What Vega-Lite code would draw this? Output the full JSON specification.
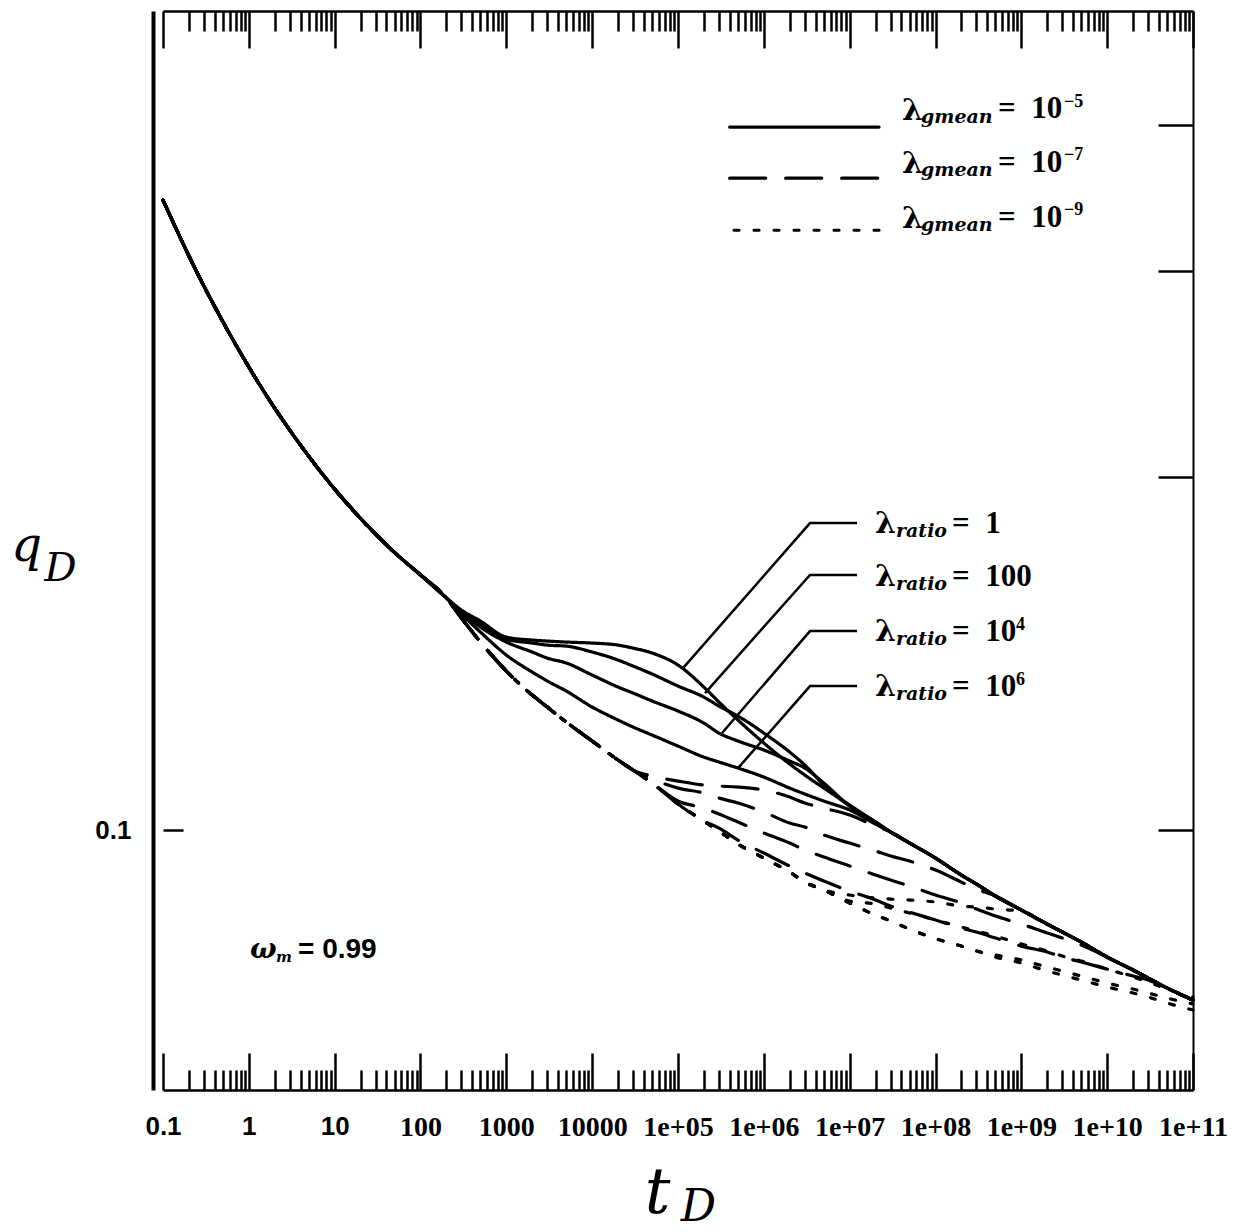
{
"$schema":"https://vega.github.io/schema/vega-lite/v6.json",
"width":1030,"height":1079,
"autosize":{"type":"none"},
"padding":{"left":163,"top":11,"right":47,"bottom":142},
"background":"white",
"config":{"view":{"stroke":null},"axis":{"grid":false,"domainColor":"black","tickColor":"black","labelColor":"black","titleColor":"black"}},
"resolve":{"axis":{"x":"independent","y":"independent"}},
"layer":[
{
"data":{"values":[
{"g":"1e-5","r":"1","t":0.1,"q":0.3448},{"g":"1e-5","r":"1","t":0.2,"q":0.3091},{"g":"1e-5","r":"1","t":0.3,"q":0.2912},{"g":"1e-5","r":"1","t":0.5,"q":0.2714},{"g":"1e-5","r":"1","t":1,"q":0.2484},{"g":"1e-5","r":"1","t":2,"q":0.2291},{"g":"1e-5","r":"1","t":3,"q":0.2194},{"g":"1e-5","r":"1","t":5,"q":0.2084},{"g":"1e-5","r":"1","t":10,"q":0.1954},{"g":"1e-5","r":"1","t":20,"q":0.1845},{"g":"1e-5","r":"1","t":30,"q":0.1789},{"g":"1e-5","r":"1","t":50,"q":0.1725},{"g":"1e-5","r":"1","t":100,"q":0.1651},{"g":"1e-5","r":"1","t":200,"q":0.1578},
{"g":"1e-5","r":"1","t":300,"q":0.15407},{"g":"1e-5","r":"1","t":500,"q":0.15077},{"g":"1e-5","r":"1","t":1000,"q":0.14609},{"g":"1e-5","r":"1","t":2000,"q":0.14525},{"g":"1e-5","r":"1","t":3000,"q":0.14497},{"g":"1e-5","r":"1","t":5000,"q":0.14468},{"g":"1e-5","r":"1","t":1e4,"q":0.1444},{"g":"1e-5","r":"1","t":2e4,"q":0.14382},{"g":"1e-5","r":"1","t":3e4,"q":0.14297},{"g":"1e-5","r":"1","t":5e4,"q":0.14159},{"g":"1e-5","r":"1","t":1e5,"q":0.13829},{"g":"1e-5","r":"1","t":2e5,"q":0.13244},{"g":"1e-5","r":"1","t":3e5,"q":0.12859},{"g":"1e-5","r":"1","t":5e5,"q":0.12413},{"g":"1e-5","r":"1","t":1e6,"q":0.11864},{"g":"1e-5","r":"1","t":2e6,"q":0.11385},{"g":"1e-5","r":"1","t":3e6,"q":0.11141},{"g":"1e-5","r":"1","t":5e6,"q":0.10859},
{"g":"1e-5","r":"1","t":1e7,"q":0.10503},{"g":"1e-5","r":"1","t":2e7,"q":0.10158},{"g":"1e-5","r":"1","t":3e7,"q":0.09961},{"g":"1e-5","r":"1","t":5e7,"q":0.09747},{"g":"1e-5","r":"1","t":1e8,"q":0.09464},{"g":"1e-5","r":"1","t":2e8,"q":0.09153},{"g":"1e-5","r":"1","t":3e8,"q":0.08993},{"g":"1e-5","r":"1","t":5e8,"q":0.08783},{"g":"1e-5","r":"1","t":1e9,"q":0.08545},{"g":"1e-5","r":"1","t":2e9,"q":0.08313},{"g":"1e-5","r":"1","t":3e9,"q":0.08184},{"g":"1e-5","r":"1","t":5e9,"q":0.08024},{"g":"1e-5","r":"1","t":1e10,"q":0.07791},{"g":"1e-5","r":"1","t":2e10,"q":0.07595},{"g":"1e-5","r":"1","t":3e10,"q":0.07476},{"g":"1e-5","r":"1","t":5e10,"q":0.0733},{"g":"1e-5","r":"1","t":1e11,"q":0.0716},

{"g":"1e-5","r":"100","t":0.1,"q":0.3448},{"g":"1e-5","r":"100","t":0.2,"q":0.3091},{"g":"1e-5","r":"100","t":0.3,"q":0.2912},{"g":"1e-5","r":"100","t":0.5,"q":0.2714},{"g":"1e-5","r":"100","t":1,"q":0.2484},{"g":"1e-5","r":"100","t":2,"q":0.2291},{"g":"1e-5","r":"100","t":3,"q":0.2194},{"g":"1e-5","r":"100","t":5,"q":0.2084},{"g":"1e-5","r":"100","t":10,"q":0.1954},{"g":"1e-5","r":"100","t":20,"q":0.1845},{"g":"1e-5","r":"100","t":30,"q":0.1789},{"g":"1e-5","r":"100","t":50,"q":0.1725},{"g":"1e-5","r":"100","t":100,"q":0.1651},{"g":"1e-5","r":"100","t":200,"q":0.1578},
{"g":"1e-5","r":"100","t":300,"q":0.15377},{"g":"1e-5","r":"100","t":500,"q":0.14988},{"g":"1e-5","r":"100","t":1000,"q":0.14551},{"g":"1e-5","r":"100","t":2000,"q":0.1444},{"g":"1e-5","r":"100","t":3000,"q":0.14382},{"g":"1e-5","r":"100","t":5000,"q":0.14353},{"g":"1e-5","r":"100","t":1e4,"q":0.14187},{"g":"1e-5","r":"100","t":2e4,"q":0.13966},{"g":"1e-5","r":"100","t":3e4,"q":0.13801},{"g":"1e-5","r":"100","t":5e4,"q":0.13587},{"g":"1e-5","r":"100","t":1e5,"q":0.1327},{"g":"1e-5","r":"100","t":2e5,"q":0.12985},{"g":"1e-5","r":"100","t":3e5,"q":0.12758},{"g":"1e-5","r":"100","t":5e5,"q":0.1251},{"g":"1e-5","r":"100","t":1e6,"q":0.12099},{"g":"1e-5","r":"100","t":2e6,"q":0.11656},{"g":"1e-5","r":"100","t":3e6,"q":0.11362},{"g":"1e-5","r":"100","t":5e6,"q":0.10924},{"g":"1e-5","r":"100","t":1e7,"q":0.10482},
{"g":"1e-5","r":"100","t":2e7,"q":0.10158},{"g":"1e-5","r":"100","t":3e7,"q":0.09961},{"g":"1e-5","r":"100","t":5e7,"q":0.09747},{"g":"1e-5","r":"100","t":1e8,"q":0.09464},{"g":"1e-5","r":"100","t":2e8,"q":0.09153},{"g":"1e-5","r":"100","t":3e8,"q":0.08993},{"g":"1e-5","r":"100","t":5e8,"q":0.08783},{"g":"1e-5","r":"100","t":1e9,"q":0.08545},{"g":"1e-5","r":"100","t":2e9,"q":0.08313},{"g":"1e-5","r":"100","t":3e9,"q":0.08184},{"g":"1e-5","r":"100","t":5e9,"q":0.08024},{"g":"1e-5","r":"100","t":1e10,"q":0.07791},{"g":"1e-5","r":"100","t":2e10,"q":0.07595},{"g":"1e-5","r":"100","t":3e10,"q":0.07476},{"g":"1e-5","r":"100","t":5e10,"q":0.0733},{"g":"1e-5","r":"100","t":1e11,"q":0.0716},

{"g":"1e-5","r":"1e4","t":0.1,"q":0.3448},{"g":"1e-5","r":"1e4","t":0.2,"q":0.3091},{"g":"1e-5","r":"1e4","t":0.3,"q":0.2912},{"g":"1e-5","r":"1e4","t":0.5,"q":0.2714},{"g":"1e-5","r":"1e4","t":1,"q":0.2484},{"g":"1e-5","r":"1e4","t":2,"q":0.2291},{"g":"1e-5","r":"1e4","t":3,"q":0.2194},{"g":"1e-5","r":"1e4","t":5,"q":0.2084},{"g":"1e-5","r":"1e4","t":10,"q":0.1954},{"g":"1e-5","r":"1e4","t":20,"q":0.1845},{"g":"1e-5","r":"1e4","t":30,"q":0.1789},{"g":"1e-5","r":"1e4","t":50,"q":0.1725},{"g":"1e-5","r":"1e4","t":100,"q":0.1651},{"g":"1e-5","r":"1e4","t":200,"q":0.1578},
{"g":"1e-5","r":"1e4","t":300,"q":0.15347},{"g":"1e-5","r":"1e4","t":500,"q":0.149},{"g":"1e-5","r":"1e4","t":1000,"q":0.14468},{"g":"1e-5","r":"1e4","t":2000,"q":0.14187},{"g":"1e-5","r":"1e4","t":3000,"q":0.14019},{"g":"1e-5","r":"1e4","t":5000,"q":0.13884},{"g":"1e-5","r":"1e4","t":1e4,"q":0.1356},{"g":"1e-5","r":"1e4","t":2e4,"q":0.13244},{"g":"1e-5","r":"1e4","t":3e4,"q":0.13088},{"g":"1e-5","r":"1e4","t":5e4,"q":0.12885},{"g":"1e-5","r":"1e4","t":1e5,"q":0.12634},{"g":"1e-5","r":"1e4","t":2e5,"q":0.1234},{"g":"1e-5","r":"1e4","t":3e5,"q":0.12099},{"g":"1e-5","r":"1e4","t":5e5,"q":0.11911},{"g":"1e-5","r":"1e4","t":1e6,"q":0.11702},{"g":"1e-5","r":"1e4","t":2e6,"q":0.11452},{"g":"1e-5","r":"1e4","t":3e6,"q":0.11295},{"g":"1e-5","r":"1e4","t":5e6,"q":0.10967},{"g":"1e-5","r":"1e4","t":1e7,"q":0.10482},
{"g":"1e-5","r":"1e4","t":2e7,"q":0.10158},{"g":"1e-5","r":"1e4","t":3e7,"q":0.09961},{"g":"1e-5","r":"1e4","t":5e7,"q":0.09747},{"g":"1e-5","r":"1e4","t":1e8,"q":0.09464},{"g":"1e-5","r":"1e4","t":2e8,"q":0.09153},{"g":"1e-5","r":"1e4","t":3e8,"q":0.08993},{"g":"1e-5","r":"1e4","t":5e8,"q":0.08783},{"g":"1e-5","r":"1e4","t":1e9,"q":0.08545},{"g":"1e-5","r":"1e4","t":2e9,"q":0.08313},{"g":"1e-5","r":"1e4","t":3e9,"q":0.08184},{"g":"1e-5","r":"1e4","t":5e9,"q":0.08024},{"g":"1e-5","r":"1e4","t":1e10,"q":0.07791},{"g":"1e-5","r":"1e4","t":2e10,"q":0.07595},{"g":"1e-5","r":"1e4","t":3e10,"q":0.07476},{"g":"1e-5","r":"1e4","t":5e10,"q":0.0733},{"g":"1e-5","r":"1e4","t":1e11,"q":0.0716},

{"g":"1e-5","r":"1e6","t":0.1,"q":0.3448},{"g":"1e-5","r":"1e6","t":0.2,"q":0.3091},{"g":"1e-5","r":"1e6","t":0.3,"q":0.2912},{"g":"1e-5","r":"1e6","t":0.5,"q":0.2714},{"g":"1e-5","r":"1e6","t":1,"q":0.2484},{"g":"1e-5","r":"1e6","t":2,"q":0.2291},{"g":"1e-5","r":"1e6","t":3,"q":0.2194},{"g":"1e-5","r":"1e6","t":5,"q":0.2084},{"g":"1e-5","r":"1e6","t":10,"q":0.1954},{"g":"1e-5","r":"1e6","t":20,"q":0.1845},{"g":"1e-5","r":"1e6","t":30,"q":0.1789},{"g":"1e-5","r":"1e6","t":50,"q":0.1725},{"g":"1e-5","r":"1e6","t":100,"q":0.1651},{"g":"1e-5","r":"1e6","t":200,"q":0.1578},
{"g":"1e-5","r":"1e6","t":300,"q":0.15286},{"g":"1e-5","r":"1e6","t":500,"q":0.14755},{"g":"1e-5","r":"1e6","t":1000,"q":0.14103},{"g":"1e-5","r":"1e6","t":2000,"q":0.1364},{"g":"1e-5","r":"1e6","t":3000,"q":0.13402},{"g":"1e-5","r":"1e6","t":5000,"q":0.1314},{"g":"1e-5","r":"1e6","t":1e4,"q":0.12733},{"g":"1e-5","r":"1e6","t":2e4,"q":0.12413},{"g":"1e-5","r":"1e6","t":3e4,"q":0.12242},{"g":"1e-5","r":"1e6","t":5e4,"q":0.12051},{"g":"1e-5","r":"1e6","t":1e5,"q":0.11793},{"g":"1e-5","r":"1e6","t":2e5,"q":0.11541},{"g":"1e-5","r":"1e6","t":3e5,"q":0.1143},{"g":"1e-5","r":"1e6","t":5e5,"q":0.11295},{"g":"1e-5","r":"1e6","t":1e6,"q":0.11096},{"g":"1e-5","r":"1e6","t":2e6,"q":0.10859},{"g":"1e-5","r":"1e6","t":3e6,"q":0.10733},{"g":"1e-5","r":"1e6","t":5e6,"q":0.10586},{"g":"1e-5","r":"1e6","t":1e7,"q":0.10401},{"g":"1e-5","r":"1e6","t":2e7,"q":0.10118},
{"g":"1e-5","r":"1e6","t":3e7,"q":0.09961},{"g":"1e-5","r":"1e6","t":5e7,"q":0.09747},{"g":"1e-5","r":"1e6","t":1e8,"q":0.09464},{"g":"1e-5","r":"1e6","t":2e8,"q":0.09153},{"g":"1e-5","r":"1e6","t":3e8,"q":0.08993},{"g":"1e-5","r":"1e6","t":5e8,"q":0.08783},{"g":"1e-5","r":"1e6","t":1e9,"q":0.08545},{"g":"1e-5","r":"1e6","t":2e9,"q":0.08313},{"g":"1e-5","r":"1e6","t":3e9,"q":0.08184},{"g":"1e-5","r":"1e6","t":5e9,"q":0.08024},{"g":"1e-5","r":"1e6","t":1e10,"q":0.07791},{"g":"1e-5","r":"1e6","t":2e10,"q":0.07595},{"g":"1e-5","r":"1e6","t":3e10,"q":0.07476},{"g":"1e-5","r":"1e6","t":5e10,"q":0.0733},{"g":"1e-5","r":"1e6","t":1e11,"q":0.0716},

{"g":"1e-7","r":"1","t":0.1,"q":0.3448},{"g":"1e-7","r":"1","t":0.2,"q":0.3091},{"g":"1e-7","r":"1","t":0.3,"q":0.2912},{"g":"1e-7","r":"1","t":0.5,"q":0.2714},{"g":"1e-7","r":"1","t":1,"q":0.2484},{"g":"1e-7","r":"1","t":2,"q":0.2291},{"g":"1e-7","r":"1","t":3,"q":0.2194},{"g":"1e-7","r":"1","t":5,"q":0.2084},{"g":"1e-7","r":"1","t":10,"q":0.1954},{"g":"1e-7","r":"1","t":20,"q":0.1845},{"g":"1e-7","r":"1","t":30,"q":0.1789},{"g":"1e-7","r":"1","t":50,"q":0.1725},{"g":"1e-7","r":"1","t":100,"q":0.1651},{"g":"1e-7","r":"1","t":200,"q":0.1578},
{"g":"1e-7","r":"1","t":300,"q":0.15165},{"g":"1e-7","r":"1","t":500,"q":0.14468},{"g":"1e-7","r":"1","t":1000,"q":0.13667},{"g":"1e-7","r":"1","t":2000,"q":0.13037},{"g":"1e-7","r":"1","t":3000,"q":0.12733},{"g":"1e-7","r":"1","t":5000,"q":0.12364},{"g":"1e-7","r":"1","t":1e4,"q":0.11911},{"g":"1e-7","r":"1","t":2e4,"q":0.11475},{"g":"1e-7","r":"1","t":3e4,"q":0.11251},
{"g":"1e-7","r":"1","t":5e4,"q":0.11118},{"g":"1e-7","r":"1","t":1e5,"q":0.1101},{"g":"1e-7","r":"1","t":2e5,"q":0.10924},{"g":"1e-7","r":"1","t":3e5,"q":0.10902},{"g":"1e-7","r":"1","t":5e5,"q":0.10881},{"g":"1e-7","r":"1","t":1e6,"q":0.10818},{"g":"1e-7","r":"1","t":2e6,"q":0.10669},{"g":"1e-7","r":"1","t":3e6,"q":0.10545},{"g":"1e-7","r":"1","t":5e6,"q":0.1044},{"g":"1e-7","r":"1","t":1e7,"q":0.10299},{"g":"1e-7","r":"1","t":2e7,"q":0.10078},
{"g":"1e-7","r":"1","t":3e7,"q":0.09961},{"g":"1e-7","r":"1","t":5e7,"q":0.09747},{"g":"1e-7","r":"1","t":1e8,"q":0.09464},{"g":"1e-7","r":"1","t":2e8,"q":0.09153},{"g":"1e-7","r":"1","t":3e8,"q":0.08993},{"g":"1e-7","r":"1","t":5e8,"q":0.08783},{"g":"1e-7","r":"1","t":1e9,"q":0.08545},{"g":"1e-7","r":"1","t":2e9,"q":0.08313},{"g":"1e-7","r":"1","t":3e9,"q":0.08184},{"g":"1e-7","r":"1","t":5e9,"q":0.08024},{"g":"1e-7","r":"1","t":1e10,"q":0.07791},{"g":"1e-7","r":"1","t":2e10,"q":0.07595},{"g":"1e-7","r":"1","t":3e10,"q":0.07476},{"g":"1e-7","r":"1","t":5e10,"q":0.0733},{"g":"1e-7","r":"1","t":1e11,"q":0.0716},

{"g":"1e-7","r":"100","t":0.1,"q":0.3448},{"g":"1e-7","r":"100","t":0.2,"q":0.3091},{"g":"1e-7","r":"100","t":0.3,"q":0.2912},{"g":"1e-7","r":"100","t":0.5,"q":0.2714},{"g":"1e-7","r":"100","t":1,"q":0.2484},{"g":"1e-7","r":"100","t":2,"q":0.2291},{"g":"1e-7","r":"100","t":3,"q":0.2194},{"g":"1e-7","r":"100","t":5,"q":0.2084},{"g":"1e-7","r":"100","t":10,"q":0.1954},{"g":"1e-7","r":"100","t":20,"q":0.1845},{"g":"1e-7","r":"100","t":30,"q":0.1789},{"g":"1e-7","r":"100","t":50,"q":0.1725},{"g":"1e-7","r":"100","t":100,"q":0.1651},{"g":"1e-7","r":"100","t":200,"q":0.1578},
{"g":"1e-7","r":"100","t":300,"q":0.15165},{"g":"1e-7","r":"100","t":500,"q":0.14468},{"g":"1e-7","r":"100","t":1000,"q":0.13667},{"g":"1e-7","r":"100","t":2000,"q":0.13037},{"g":"1e-7","r":"100","t":3000,"q":0.12733},{"g":"1e-7","r":"100","t":5000,"q":0.12364},{"g":"1e-7","r":"100","t":1e4,"q":0.11911},{"g":"1e-7","r":"100","t":2e4,"q":0.11475},{"g":"1e-7","r":"100","t":3e4,"q":0.11251},
{"g":"1e-7","r":"100","t":5e4,"q":0.11052},{"g":"1e-7","r":"100","t":1e5,"q":0.10859},{"g":"1e-7","r":"100","t":2e5,"q":0.10754},{"g":"1e-7","r":"100","t":3e5,"q":0.10648},{"g":"1e-7","r":"100","t":5e5,"q":0.10545},{"g":"1e-7","r":"100","t":1e6,"q":0.1036},{"g":"1e-7","r":"100","t":2e6,"q":0.10138},{"g":"1e-7","r":"100","t":3e6,"q":0.10058},{"g":"1e-7","r":"100","t":5e6,"q":0.09902},{"g":"1e-7","r":"100","t":1e7,"q":0.09747},{"g":"1e-7","r":"100","t":2e7,"q":0.09596},{"g":"1e-7","r":"100","t":3e7,"q":0.09502},{"g":"1e-7","r":"100","t":5e7,"q":0.09409},{"g":"1e-7","r":"100","t":1e8,"q":0.09244},{"g":"1e-7","r":"100","t":2e8,"q":0.09028},{"g":"1e-7","r":"100","t":3e8,"q":0.08905},{"g":"1e-7","r":"100","t":5e8,"q":0.08783},
{"g":"1e-7","r":"100","t":1e9,"q":0.08545},{"g":"1e-7","r":"100","t":2e9,"q":0.08313},{"g":"1e-7","r":"100","t":3e9,"q":0.08184},{"g":"1e-7","r":"100","t":5e9,"q":0.08024},{"g":"1e-7","r":"100","t":1e10,"q":0.07791},{"g":"1e-7","r":"100","t":2e10,"q":0.07595},{"g":"1e-7","r":"100","t":3e10,"q":0.07476},{"g":"1e-7","r":"100","t":5e10,"q":0.0733},{"g":"1e-7","r":"100","t":1e11,"q":0.0716},

{"g":"1e-7","r":"1e4","t":0.1,"q":0.3448},{"g":"1e-7","r":"1e4","t":0.2,"q":0.3091},{"g":"1e-7","r":"1e4","t":0.3,"q":0.2912},{"g":"1e-7","r":"1e4","t":0.5,"q":0.2714},{"g":"1e-7","r":"1e4","t":1,"q":0.2484},{"g":"1e-7","r":"1e4","t":2,"q":0.2291},{"g":"1e-7","r":"1e4","t":3,"q":0.2194},{"g":"1e-7","r":"1e4","t":5,"q":0.2084},{"g":"1e-7","r":"1e4","t":10,"q":0.1954},{"g":"1e-7","r":"1e4","t":20,"q":0.1845},{"g":"1e-7","r":"1e4","t":30,"q":0.1789},{"g":"1e-7","r":"1e4","t":50,"q":0.1725},{"g":"1e-7","r":"1e4","t":100,"q":0.1651},{"g":"1e-7","r":"1e4","t":200,"q":0.1578},
{"g":"1e-7","r":"1e4","t":300,"q":0.15165},{"g":"1e-7","r":"1e4","t":500,"q":0.14468},{"g":"1e-7","r":"1e4","t":1000,"q":0.13667},{"g":"1e-7","r":"1e4","t":2000,"q":0.13037},{"g":"1e-7","r":"1e4","t":3000,"q":0.12733},{"g":"1e-7","r":"1e4","t":5000,"q":0.12364},{"g":"1e-7","r":"1e4","t":1e4,"q":0.11911},{"g":"1e-7","r":"1e4","t":2e4,"q":0.11475},{"g":"1e-7","r":"1e4","t":3e4,"q":0.11251},{"g":"1e-7","r":"1e4","t":5e4,"q":0.10967},
{"g":"1e-7","r":"1e4","t":1e5,"q":0.10586},{"g":"1e-7","r":"1e4","t":2e5,"q":0.1044},{"g":"1e-7","r":"1e4","t":3e5,"q":0.10319},{"g":"1e-7","r":"1e4","t":5e5,"q":0.10158},{"g":"1e-7","r":"1e4","t":1e6,"q":0.09941},{"g":"1e-7","r":"1e4","t":2e6,"q":0.09747},{"g":"1e-7","r":"1e4","t":3e6,"q":0.09615},{"g":"1e-7","r":"1e4","t":5e6,"q":0.09483},{"g":"1e-7","r":"1e4","t":1e7,"q":0.09317},{"g":"1e-7","r":"1e4","t":2e7,"q":0.09153},{"g":"1e-7","r":"1e4","t":3e7,"q":0.09064},{"g":"1e-7","r":"1e4","t":5e7,"q":0.08958},{"g":"1e-7","r":"1e4","t":1e8,"q":0.08801},{"g":"1e-7","r":"1e4","t":2e8,"q":0.08664},{"g":"1e-7","r":"1e4","t":3e8,"q":0.08562},{"g":"1e-7","r":"1e4","t":5e8,"q":0.08444},{"g":"1e-7","r":"1e4","t":1e9,"q":0.08313},{"g":"1e-7","r":"1e4","t":2e9,"q":0.08168},{"g":"1e-7","r":"1e4","t":3e9,"q":0.08088},{"g":"1e-7","r":"1e4","t":5e9,"q":0.07977},
{"g":"1e-7","r":"1e4","t":1e10,"q":0.07791},{"g":"1e-7","r":"1e4","t":2e10,"q":0.07595},{"g":"1e-7","r":"1e4","t":3e10,"q":0.07476},{"g":"1e-7","r":"1e4","t":5e10,"q":0.0733},{"g":"1e-7","r":"1e4","t":1e11,"q":0.0716},

{"g":"1e-7","r":"1e6","t":0.1,"q":0.3448},{"g":"1e-7","r":"1e6","t":0.2,"q":0.3091},{"g":"1e-7","r":"1e6","t":0.3,"q":0.2912},{"g":"1e-7","r":"1e6","t":0.5,"q":0.2714},{"g":"1e-7","r":"1e6","t":1,"q":0.2484},{"g":"1e-7","r":"1e6","t":2,"q":0.2291},{"g":"1e-7","r":"1e6","t":3,"q":0.2194},{"g":"1e-7","r":"1e6","t":5,"q":0.2084},{"g":"1e-7","r":"1e6","t":10,"q":0.1954},{"g":"1e-7","r":"1e6","t":20,"q":0.1845},{"g":"1e-7","r":"1e6","t":30,"q":0.1789},{"g":"1e-7","r":"1e6","t":50,"q":0.1725},{"g":"1e-7","r":"1e6","t":100,"q":0.1651},{"g":"1e-7","r":"1e6","t":200,"q":0.1578},
{"g":"1e-7","r":"1e6","t":300,"q":0.15165},{"g":"1e-7","r":"1e6","t":500,"q":0.14468},{"g":"1e-7","r":"1e6","t":1000,"q":0.13667},{"g":"1e-7","r":"1e6","t":2000,"q":0.13037},{"g":"1e-7","r":"1e6","t":3000,"q":0.12733},{"g":"1e-7","r":"1e6","t":5000,"q":0.12364},{"g":"1e-7","r":"1e6","t":1e4,"q":0.11911},{"g":"1e-7","r":"1e6","t":2e4,"q":0.11475},{"g":"1e-7","r":"1e6","t":3e4,"q":0.11251},{"g":"1e-7","r":"1e6","t":5e4,"q":0.10967},{"g":"1e-7","r":"1e6","t":1e5,"q":0.10524},{"g":"1e-7","r":"1e6","t":2e5,"q":0.10178},
{"g":"1e-7","r":"1e6","t":3e5,"q":0.10038},{"g":"1e-7","r":"1e6","t":5e5,"q":0.09805},{"g":"1e-7","r":"1e6","t":1e6,"q":0.09558},{"g":"1e-7","r":"1e6","t":2e6,"q":0.09317},{"g":"1e-7","r":"1e6","t":3e6,"q":0.0919},{"g":"1e-7","r":"1e6","t":5e6,"q":0.09046},{"g":"1e-7","r":"1e6","t":1e7,"q":0.08871},{"g":"1e-7","r":"1e6","t":2e7,"q":0.08715},{"g":"1e-7","r":"1e6","t":3e7,"q":0.08612},{"g":"1e-7","r":"1e6","t":5e7,"q":0.08511},{"g":"1e-7","r":"1e6","t":1e8,"q":0.08379},{"g":"1e-7","r":"1e6","t":2e8,"q":0.08247},{"g":"1e-7","r":"1e6","t":3e8,"q":0.08184},{"g":"1e-7","r":"1e6","t":5e8,"q":0.08088},{"g":"1e-7","r":"1e6","t":1e9,"q":0.07961},{"g":"1e-7","r":"1e6","t":2e9,"q":0.07869},{"g":"1e-7","r":"1e6","t":3e9,"q":0.07791},{"g":"1e-7","r":"1e6","t":5e9,"q":0.07716},{"g":"1e-7","r":"1e6","t":1e10,"q":0.07609},{"g":"1e-7","r":"1e6","t":2e10,"q":0.07506},{"g":"1e-7","r":"1e6","t":3e10,"q":0.07447},{"g":"1e-7","r":"1e6","t":5e10,"q":0.0733},{"g":"1e-7","r":"1e6","t":1e11,"q":0.0716},

{"g":"1e-9","r":"1","t":0.1,"q":0.3448},{"g":"1e-9","r":"1","t":0.2,"q":0.3091},{"g":"1e-9","r":"1","t":0.3,"q":0.2912},{"g":"1e-9","r":"1","t":0.5,"q":0.2714},{"g":"1e-9","r":"1","t":1,"q":0.2484},{"g":"1e-9","r":"1","t":2,"q":0.2291},{"g":"1e-9","r":"1","t":3,"q":0.2194},{"g":"1e-9","r":"1","t":5,"q":0.2084},{"g":"1e-9","r":"1","t":10,"q":0.1954},{"g":"1e-9","r":"1","t":20,"q":0.1845},{"g":"1e-9","r":"1","t":30,"q":0.1789},{"g":"1e-9","r":"1","t":50,"q":0.1725},{"g":"1e-9","r":"1","t":100,"q":0.1651},{"g":"1e-9","r":"1","t":200,"q":0.1578},
{"g":"1e-9","r":"1","t":300,"q":0.15165},{"g":"1e-9","r":"1","t":500,"q":0.14468},{"g":"1e-9","r":"1","t":1000,"q":0.13667},{"g":"1e-9","r":"1","t":2000,"q":0.13037},{"g":"1e-9","r":"1","t":3000,"q":0.12733},{"g":"1e-9","r":"1","t":5000,"q":0.12364},{"g":"1e-9","r":"1","t":1e4,"q":0.11911},{"g":"1e-9","r":"1","t":2e4,"q":0.11475},{"g":"1e-9","r":"1","t":3e4,"q":0.11251},{"g":"1e-9","r":"1","t":5e4,"q":0.10967},{"g":"1e-9","r":"1","t":1e5,"q":0.10524},{"g":"1e-9","r":"1","t":2e5,"q":0.10178},{"g":"1e-9","r":"1","t":3e5,"q":0.0998},{"g":"1e-9","r":"1","t":5e5,"q":0.09728},{"g":"1e-9","r":"1","t":1e6,"q":0.09464},{"g":"1e-9","r":"1","t":2e6,"q":0.09208},{"g":"1e-9","r":"1","t":3e6,"q":0.09028},{"g":"1e-9","r":"1","t":5e6,"q":0.08888},
{"g":"1e-9","r":"1","t":1e7,"q":0.08801},{"g":"1e-9","r":"1","t":2e7,"q":0.08748},{"g":"1e-9","r":"1","t":3e7,"q":0.08731},{"g":"1e-9","r":"1","t":5e7,"q":0.08715},{"g":"1e-9","r":"1","t":1e8,"q":0.08681},{"g":"1e-9","r":"1","t":2e8,"q":0.08612},{"g":"1e-9","r":"1","t":3e8,"q":0.08595},{"g":"1e-9","r":"1","t":5e8,"q":0.08562},{"g":"1e-9","r":"1","t":1e9,"q":0.08528},
{"g":"1e-9","r":"1","t":2e9,"q":0.08313},{"g":"1e-9","r":"1","t":3e9,"q":0.08184},{"g":"1e-9","r":"1","t":5e9,"q":0.08024},{"g":"1e-9","r":"1","t":1e10,"q":0.07791},{"g":"1e-9","r":"1","t":2e10,"q":0.07595},{"g":"1e-9","r":"1","t":3e10,"q":0.07476},{"g":"1e-9","r":"1","t":5e10,"q":0.0733},{"g":"1e-9","r":"1","t":1e11,"q":0.0716},

{"g":"1e-9","r":"100","t":0.1,"q":0.3448},{"g":"1e-9","r":"100","t":0.2,"q":0.3091},{"g":"1e-9","r":"100","t":0.3,"q":0.2912},{"g":"1e-9","r":"100","t":0.5,"q":0.2714},{"g":"1e-9","r":"100","t":1,"q":0.2484},{"g":"1e-9","r":"100","t":2,"q":0.2291},{"g":"1e-9","r":"100","t":3,"q":0.2194},{"g":"1e-9","r":"100","t":5,"q":0.2084},{"g":"1e-9","r":"100","t":10,"q":0.1954},{"g":"1e-9","r":"100","t":20,"q":0.1845},{"g":"1e-9","r":"100","t":30,"q":0.1789},{"g":"1e-9","r":"100","t":50,"q":0.1725},{"g":"1e-9","r":"100","t":100,"q":0.1651},{"g":"1e-9","r":"100","t":200,"q":0.1578},
{"g":"1e-9","r":"100","t":300,"q":0.15165},{"g":"1e-9","r":"100","t":500,"q":0.14468},{"g":"1e-9","r":"100","t":1000,"q":0.13667},{"g":"1e-9","r":"100","t":2000,"q":0.13037},{"g":"1e-9","r":"100","t":3000,"q":0.12733},{"g":"1e-9","r":"100","t":5000,"q":0.12364},{"g":"1e-9","r":"100","t":1e4,"q":0.11911},{"g":"1e-9","r":"100","t":2e4,"q":0.11475},{"g":"1e-9","r":"100","t":3e4,"q":0.11251},{"g":"1e-9","r":"100","t":5e4,"q":0.10967},{"g":"1e-9","r":"100","t":1e5,"q":0.10524},{"g":"1e-9","r":"100","t":2e5,"q":0.10178},{"g":"1e-9","r":"100","t":3e5,"q":0.0998},{"g":"1e-9","r":"100","t":5e5,"q":0.09728},{"g":"1e-9","r":"100","t":1e6,"q":0.09464},{"g":"1e-9","r":"100","t":2e6,"q":0.09208},{"g":"1e-9","r":"100","t":3e6,"q":0.09028},{"g":"1e-9","r":"100","t":5e6,"q":0.08888},
{"g":"1e-9","r":"100","t":1e7,"q":0.08698},{"g":"1e-9","r":"100","t":2e7,"q":0.08647},{"g":"1e-9","r":"100","t":3e7,"q":0.08579},{"g":"1e-9","r":"100","t":5e7,"q":0.08495},{"g":"1e-9","r":"100","t":1e8,"q":0.08379},{"g":"1e-9","r":"100","t":2e8,"q":0.08264},{"g":"1e-9","r":"100","t":3e8,"q":0.082},{"g":"1e-9","r":"100","t":5e8,"q":0.08119},{"g":"1e-9","r":"100","t":1e9,"q":0.07993},{"g":"1e-9","r":"100","t":2e9,"q":0.07885},{"g":"1e-9","r":"100","t":3e9,"q":0.07807},{"g":"1e-9","r":"100","t":5e9,"q":0.07731},{"g":"1e-9","r":"100","t":1e10,"q":0.07609},{"g":"1e-9","r":"100","t":2e10,"q":0.07491},{"g":"1e-9","r":"100","t":3e10,"q":0.07418},{"g":"1e-9","r":"100","t":5e10,"q":0.07317},{"g":"1e-9","r":"100","t":1e11,"q":0.07203},

{"g":"1e-9","r":"1e4","t":0.1,"q":0.3448},{"g":"1e-9","r":"1e4","t":0.2,"q":0.3091},{"g":"1e-9","r":"1e4","t":0.3,"q":0.2912},{"g":"1e-9","r":"1e4","t":0.5,"q":0.2714},{"g":"1e-9","r":"1e4","t":1,"q":0.2484},{"g":"1e-9","r":"1e4","t":2,"q":0.2291},{"g":"1e-9","r":"1e4","t":3,"q":0.2194},{"g":"1e-9","r":"1e4","t":5,"q":0.2084},{"g":"1e-9","r":"1e4","t":10,"q":0.1954},{"g":"1e-9","r":"1e4","t":20,"q":0.1845},{"g":"1e-9","r":"1e4","t":30,"q":0.1789},{"g":"1e-9","r":"1e4","t":50,"q":0.1725},{"g":"1e-9","r":"1e4","t":100,"q":0.1651},{"g":"1e-9","r":"1e4","t":200,"q":0.1578},
{"g":"1e-9","r":"1e4","t":300,"q":0.15165},{"g":"1e-9","r":"1e4","t":500,"q":0.14468},{"g":"1e-9","r":"1e4","t":1000,"q":0.13667},{"g":"1e-9","r":"1e4","t":2000,"q":0.13037},{"g":"1e-9","r":"1e4","t":3000,"q":0.12733},{"g":"1e-9","r":"1e4","t":5000,"q":0.12364},{"g":"1e-9","r":"1e4","t":1e4,"q":0.11911},{"g":"1e-9","r":"1e4","t":2e4,"q":0.11475},{"g":"1e-9","r":"1e4","t":3e4,"q":0.11251},{"g":"1e-9","r":"1e4","t":5e4,"q":0.10967},{"g":"1e-9","r":"1e4","t":1e5,"q":0.10524},{"g":"1e-9","r":"1e4","t":2e5,"q":0.10178},{"g":"1e-9","r":"1e4","t":3e5,"q":0.0998},{"g":"1e-9","r":"1e4","t":5e5,"q":0.09728},{"g":"1e-9","r":"1e4","t":1e6,"q":0.09464},{"g":"1e-9","r":"1e4","t":2e6,"q":0.09208},{"g":"1e-9","r":"1e4","t":3e6,"q":0.09028},{"g":"1e-9","r":"1e4","t":5e6,"q":0.08888},
{"g":"1e-9","r":"1e4","t":1e7,"q":0.08664},{"g":"1e-9","r":"1e4","t":2e7,"q":0.08461},{"g":"1e-9","r":"1e4","t":3e7,"q":0.08363},{"g":"1e-9","r":"1e4","t":5e7,"q":0.08231},{"g":"1e-9","r":"1e4","t":1e8,"q":0.08079},{"g":"1e-9","r":"1e4","t":2e8,"q":0.07961},{"g":"1e-9","r":"1e4","t":3e8,"q":0.07885},{"g":"1e-9","r":"1e4","t":5e8,"q":0.07822},{"g":"1e-9","r":"1e4","t":1e9,"q":0.07746},{"g":"1e-9","r":"1e4","t":2e9,"q":0.0764},{"g":"1e-9","r":"1e4","t":3e9,"q":0.0758},{"g":"1e-9","r":"1e4","t":5e9,"q":0.07506},{"g":"1e-9","r":"1e4","t":1e10,"q":0.07403},{"g":"1e-9","r":"1e4","t":2e10,"q":0.07317},{"g":"1e-9","r":"1e4","t":3e10,"q":0.0726},{"g":"1e-9","r":"1e4","t":5e10,"q":0.07188},{"g":"1e-9","r":"1e4","t":1e11,"q":0.07104},

{"g":"1e-9","r":"1e6","t":0.1,"q":0.3448},{"g":"1e-9","r":"1e6","t":0.2,"q":0.3091},{"g":"1e-9","r":"1e6","t":0.3,"q":0.2912},{"g":"1e-9","r":"1e6","t":0.5,"q":0.2714},{"g":"1e-9","r":"1e6","t":1,"q":0.2484},{"g":"1e-9","r":"1e6","t":2,"q":0.2291},{"g":"1e-9","r":"1e6","t":3,"q":0.2194},{"g":"1e-9","r":"1e6","t":5,"q":0.2084},{"g":"1e-9","r":"1e6","t":10,"q":0.1954},{"g":"1e-9","r":"1e6","t":20,"q":0.1845},{"g":"1e-9","r":"1e6","t":30,"q":0.1789},{"g":"1e-9","r":"1e6","t":50,"q":0.1725},{"g":"1e-9","r":"1e6","t":100,"q":0.1651},{"g":"1e-9","r":"1e6","t":200,"q":0.1578},
{"g":"1e-9","r":"1e6","t":300,"q":0.15165},{"g":"1e-9","r":"1e6","t":500,"q":0.14468},{"g":"1e-9","r":"1e6","t":1000,"q":0.13667},{"g":"1e-9","r":"1e6","t":2000,"q":0.13037},{"g":"1e-9","r":"1e6","t":3000,"q":0.12733},{"g":"1e-9","r":"1e6","t":5000,"q":0.12364},{"g":"1e-9","r":"1e6","t":1e4,"q":0.11911},{"g":"1e-9","r":"1e6","t":2e4,"q":0.11475},{"g":"1e-9","r":"1e6","t":3e4,"q":0.11251},{"g":"1e-9","r":"1e6","t":5e4,"q":0.10967},{"g":"1e-9","r":"1e6","t":1e5,"q":0.10524},{"g":"1e-9","r":"1e6","t":2e5,"q":0.10178},{"g":"1e-9","r":"1e6","t":3e5,"q":0.0998},{"g":"1e-9","r":"1e6","t":5e5,"q":0.09728},{"g":"1e-9","r":"1e6","t":1e6,"q":0.09464},{"g":"1e-9","r":"1e6","t":2e6,"q":0.09208},{"g":"1e-9","r":"1e6","t":3e6,"q":0.09028},{"g":"1e-9","r":"1e6","t":5e6,"q":0.08888},
{"g":"1e-9","r":"1e6","t":1e7,"q":0.08664},{"g":"1e-9","r":"1e6","t":2e7,"q":0.08461},{"g":"1e-9","r":"1e6","t":3e7,"q":0.08363},{"g":"1e-9","r":"1e6","t":5e7,"q":0.08231},{"g":"1e-9","r":"1e6","t":1e8,"q":0.08079},{"g":"1e-9","r":"1e6","t":2e8,"q":0.07961},{"g":"1e-9","r":"1e6","t":3e8,"q":0.07885},{"g":"1e-9","r":"1e6","t":5e8,"q":0.07791},{"g":"1e-9","r":"1e6","t":1e9,"q":0.077},{"g":"1e-9","r":"1e6","t":2e9,"q":0.0758},{"g":"1e-9","r":"1e6","t":3e9,"q":0.0752},{"g":"1e-9","r":"1e6","t":5e9,"q":0.07447},{"g":"1e-9","r":"1e6","t":1e10,"q":0.07345},{"g":"1e-9","r":"1e6","t":2e10,"q":0.0726},{"g":"1e-9","r":"1e6","t":3e10,"q":0.07203},{"g":"1e-9","r":"1e6","t":5e10,"q":0.07118},{"g":"1e-9","r":"1e6","t":1e11,"q":0.07021}
]},
"mark":{"type":"line","color":"black","strokeWidth":3.2,"strokeCap":"round","interpolate":"monotone"},
"encoding":{
"x":{"field":"t","type":"quantitative","scale":{"type":"log","domain":[0.1,1e11],"nice":false},
 "axis":{"orient":"bottom","values":[0.1,1,10,100,1000,10000,1e5,1e6,1e7,1e8,1e9,1e10,1e11],"ticks":false,"domain":true,"domainWidth":2.5,
 "labelExpr":"datum.value < 0.5 ? '0.1' : datum.value < 99999 ? format(datum.value, 'd') : '1e+' + (datum.value < 1e10 ? '0' : '') + format(round(log(datum.value)/LN10), 'd')",
 "labelFont":{"condition":{"test":"datum.value < 50","value":"Liberation Sans"},"value":"Liberation Serif"},
 "labelFontSize":{"condition":{"test":"datum.value < 50","value":26},"value":28},
 "labelFontWeight":"bold","labelPadding":23,"labelFlush":false,"labelOverlap":false,"labelBound":false,
 "title":"t","titleFont":"DejaVu Serif","titleFontStyle":"italic","titleFontWeight":"normal","titleFontSize":64,"titleX":494,"titleY":122,"titleAlign":"center","titleBaseline":"alphabetic","titleAngle":0}},
"y":{"field":"q","type":"quantitative","scale":{"type":"log","domain":[0.06,0.5],"nice":false},
 "axis":{"orient":"left","offset":10,"values":[0.1],"ticks":false,"domain":true,"domainWidth":4,"labelFont":"Liberation Sans","labelFontSize":26,"labelFontWeight":"bold","labelPadding":22,
 "title":"q","titleFont":"DejaVu Serif","titleFontStyle":"italic","titleFontWeight":"normal","titleFontSize":48,"titleAngle":0,"titleX":-127,"titleY":549,"titleAlign":"center","titleBaseline":"alphabetic"}},
"strokeDash":{"field":"g","type":"nominal","scale":{"domain":["1e-5","1e-7","1e-9"],"range":[[1,0],[36,20],[5,15]]},"legend":null},
"detail":[{"field":"g","type":"nominal"},{"field":"r","type":"nominal"}]
}
},
{
"data":{"values":[
{"k":"1","t":1.144e5,"q":0.13748},{"k":"1","t":3.45e6,"q":0.1828},{"k":"1","t":1.219e7,"q":0.1828},
{"k":"2","t":2.065e5,"q":0.13089},{"k":"2","t":3.45e6,"q":0.1651},{"k":"2","t":1.219e7,"q":0.1651},
{"k":"3","t":3.26e5,"q":0.121},{"k":"3","t":3.45e6,"q":0.14784},{"k":"3","t":1.219e7,"q":0.14784},
{"k":"4","t":5.01e5,"q":0.11295},{"k":"4","t":3.45e6,"q":0.1327},{"k":"4","t":1.219e7,"q":0.1327}
]},
"mark":{"type":"line","color":"black","strokeWidth":2.5},
"encoding":{
"x":{"field":"t","type":"quantitative","axis":{"orient":"bottom","labels":false,"domain":false,"tickWidth":2.5,
 "values":[0.1,0.2,0.3,0.4,0.5,0.6,0.7,0.8,0.9,1,2,3,4,5,6,7,8,9,10,20,30,40,50,60,70,80,90,100,200,300,400,500,600,700,800,900,1000,2000,3000,4000,5000,6000,7000,8000,9000,1e4,2e4,3e4,4e4,5e4,6e4,7e4,8e4,9e4,1e5,2e5,3e5,4e5,5e5,6e5,7e5,8e5,9e5,1e6,2e6,3e6,4e6,5e6,6e6,7e6,8e6,9e6,1e7,2e7,3e7,4e7,5e7,6e7,7e7,8e7,9e7,1e8,2e8,3e8,4e8,5e8,6e8,7e8,8e8,9e8,1e9,2e9,3e9,4e9,5e9,6e9,7e9,8e9,9e9,1e10,2e10,3e10,4e10,5e10,6e10,7e10,8e10,9e10,1e11],
 "tickSize":{"condition":{"test":"abs(log(datum.value)/LN10 - round(log(datum.value)/LN10)) < 0.01","value":-37},"value":-20},
 "title":"D","titleFont":"DejaVu Serif","titleFontStyle":"italic","titleFontWeight":"normal","titleFontSize":44,"titleX":535,"titleY":130,"titleAlign":"center","titleBaseline":"alphabetic","titleAngle":0}},
"y":{"field":"q","type":"quantitative","axis":{"orient":"left","values":[0.1],"labels":false,"domain":false,"tickSize":-20,"tickWidth":2.5,
 "title":"D","titleFont":"DejaVu Serif","titleFontStyle":"italic","titleFontWeight":"normal","titleFontSize":40,"titleAngle":0,"titleX":-103,"titleY":569,"titleAlign":"center","titleBaseline":"alphabetic"}},
"detail":{"field":"k","type":"nominal"}
}
},
{
"data":{"values":[
{"g":"1e-5","t":4e5,"q":0.398},{"g":"1e-5","t":2.2e7,"q":0.398},
{"g":"1e-7","t":4e5,"q":0.36},{"g":"1e-7","t":2.2e7,"q":0.36},
{"g":"1e-9","t":4.5e5,"q":0.325},{"g":"1e-9","t":2.2e7,"q":0.325}
]},
"mark":{"type":"line","color":"black","strokeWidth":3.2,"strokeCap":"round"},
"encoding":{
"x":{"field":"t","type":"quantitative","axis":{"orient":"top","labels":false,"domain":true,"domainWidth":2.5,"tickWidth":2.5,"title":null,
 "values":[0.1,0.2,0.3,0.4,0.5,0.6,0.7,0.8,0.9,1,2,3,4,5,6,7,8,9,10,20,30,40,50,60,70,80,90,100,200,300,400,500,600,700,800,900,1000,2000,3000,4000,5000,6000,7000,8000,9000,1e4,2e4,3e4,4e4,5e4,6e4,7e4,8e4,9e4,1e5,2e5,3e5,4e5,5e5,6e5,7e5,8e5,9e5,1e6,2e6,3e6,4e6,5e6,6e6,7e6,8e6,9e6,1e7,2e7,3e7,4e7,5e7,6e7,7e7,8e7,9e7,1e8,2e8,3e8,4e8,5e8,6e8,7e8,8e8,9e8,1e9,2e9,3e9,4e9,5e9,6e9,7e9,8e9,9e9,1e10,2e10,3e10,4e10,5e10,6e10,7e10,8e10,9e10,1e11],
 "tickSize":{"condition":{"test":"abs(log(datum.value)/LN10 - round(log(datum.value)/LN10)) < 0.01","value":-37},"value":-20}}},
"y":{"field":"q","type":"quantitative","axis":{"orient":"right","values":[0.1,0.2,0.3,0.4],"labels":false,"domain":true,"domainWidth":2,"tickSize":-35,"tickWidth":2.5,"title":null}},
"strokeDash":{"field":"g","type":"nominal","legend":null}
}
},
{
"data":{"values":[
{"t":4.07e7,"q":0.4035,"s":"λ"},{"t":4.07e7,"q":0.3636,"s":"λ"},{"t":4.07e7,"q":0.3263,"s":"λ"},
{"t":1.975e7,"q":0.17923,"s":"λ"},{"t":1.975e7,"q":0.16151,"s":"λ"},{"t":1.975e7,"q":0.14497,"s":"λ"},{"t":1.975e7,"q":0.13012,"s":"λ"}
]},
"mark":{"type":"text","align":"left","baseline":"alphabetic","font":"DejaVu Serif","fontWeight":"bold","fontSize":30,"color":"black"},
"encoding":{"x":{"field":"t","type":"quantitative","axis":null},"y":{"field":"q","type":"quantitative","axis":null},"text":{"field":"s"}}
},
{
"data":{"values":[
{"t":6.78e7,"q":0.40109,"s":"gmean"},{"t":6.78e7,"q":0.36144,"s":"gmean"},{"t":6.78e7,"q":0.32441,"s":"gmean"},
{"t":3.47e7,"q":0.17782,"s":"ratio"},{"t":3.47e7,"q":0.16024,"s":"ratio"},{"t":3.47e7,"q":0.14383,"s":"ratio"},{"t":3.47e7,"q":0.1291,"s":"ratio"}
]},
"mark":{"type":"text","align":"left","baseline":"alphabetic","font":"DejaVu Serif","fontWeight":"bold","fontStyle":"italic","fontSize":19,"color":"black"},
"encoding":{"x":{"field":"t","type":"quantitative","axis":null},"y":{"field":"q","type":"quantitative","axis":null},"text":{"field":"s"}}
},
{
"data":{"values":[
{"t":5.36e8,"q":0.40505,"s":"=\u200210"},{"t":5.36e8,"q":0.36429,"s":"=\u200210"},{"t":5.36e8,"q":0.32699,"s":"=\u200210"},
{"t":1.56e8,"q":0.17923,"s":"=\u20021"},{"t":1.56e8,"q":0.16151,"s":"=\u2002100"},{"t":1.56e8,"q":0.14497,"s":"=\u200210"},{"t":1.56e8,"q":0.13012,"s":"=\u200210"}
]},
"mark":{"type":"text","align":"left","baseline":"alphabetic","font":"Liberation Serif","fontWeight":"bold","fontSize":31,"color":"black"},
"encoding":{"x":{"field":"t","type":"quantitative","axis":null},"y":{"field":"q","type":"quantitative","axis":null},"text":{"field":"s"}}
},
{
"data":{"values":[
{"t":3.14e9,"q":0.4139,"s":"−5"},{"t":3.14e9,"q":0.373,"s":"−7"},{"t":3.14e9,"q":0.3348,"s":"−9"},
{"t":8.67e8,"q":0.14813,"s":"4"},{"t":8.67e8,"q":0.13296,"s":"6"}
]},
"mark":{"type":"text","align":"left","baseline":"alphabetic","font":"Liberation Serif","fontWeight":"bold","fontSize":18,"color":"black"},
"encoding":{"x":{"field":"t","type":"quantitative","axis":null},"y":{"field":"q","type":"quantitative","axis":null},"text":{"field":"s"}}
},
{
"data":{"values":[{"t":1.032,"q":0.07777,"s":"ω"}]},
"mark":{"type":"text","align":"left","baseline":"alphabetic","font":"DejaVu Serif","fontWeight":"bold","fontStyle":"italic","fontSize":28,"color":"black"},
"encoding":{"x":{"field":"t","type":"quantitative","axis":null},"y":{"field":"q","type":"quantitative","axis":null},"text":{"field":"s"}}
},
{
"data":{"values":[{"t":2.07,"q":0.07716,"s":"m"}]},
"mark":{"type":"text","align":"left","baseline":"alphabetic","font":"DejaVu Serif","fontWeight":"bold","fontStyle":"italic","fontSize":15,"color":"black"},
"encoding":{"x":{"field":"t","type":"quantitative","axis":null},"y":{"field":"q","type":"quantitative","axis":null},"text":{"field":"s"}}
},
{
"data":{"values":[{"t":3.74,"q":0.07777,"s":"= 0.99"}]},
"mark":{"type":"text","align":"left","baseline":"alphabetic","font":"Liberation Sans","fontWeight":"bold","fontSize":28,"color":"black"},
"encoding":{"x":{"field":"t","type":"quantitative","axis":null},"y":{"field":"q","type":"quantitative","axis":null},"text":{"field":"s"}}
}
]
}
